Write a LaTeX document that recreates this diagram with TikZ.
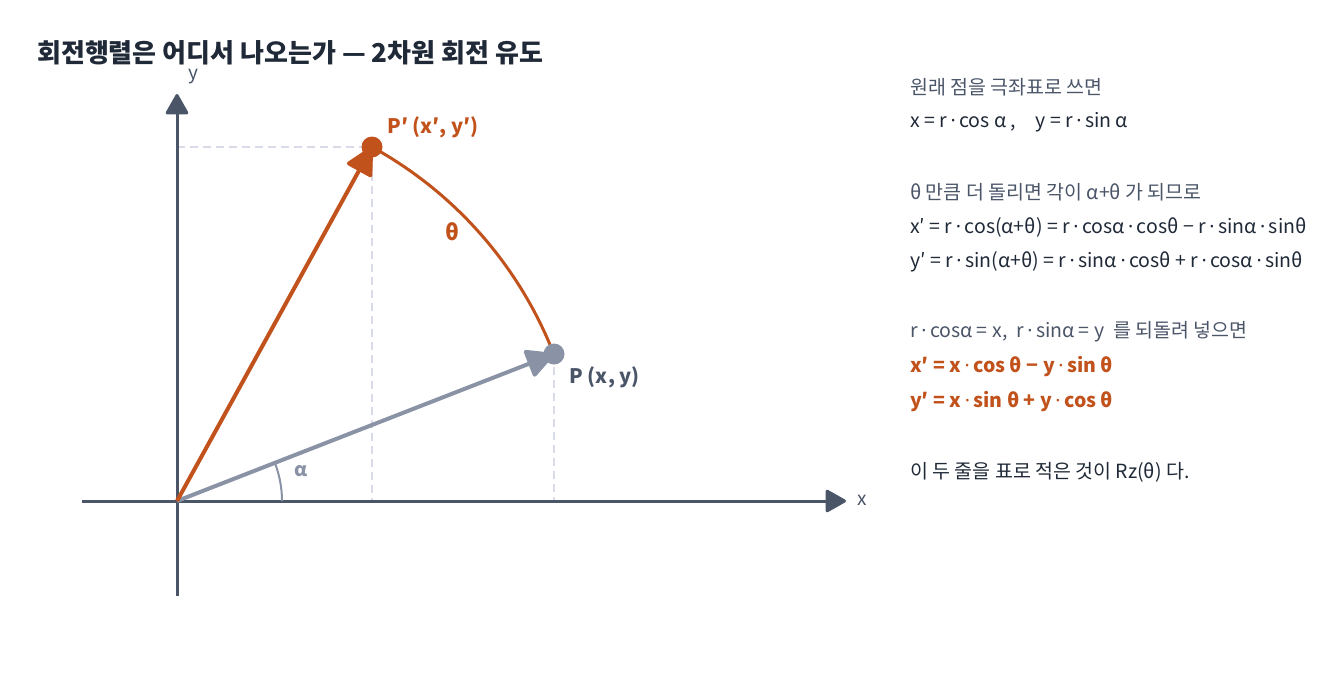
\documentclass[tikz,border=0pt]{standalone}
\usepackage{fontspec}
\setmainfont{Noto Sans CJK KR}
\newfontfamily\dotfont{Noto Sans}
\newcommand\md{\unskip\hspace{0.18em}{\dotfont ·}\hspace{0.18em}\ignorespaces}
\usetikzlibrary{arrows.meta}
\definecolor{axiscol}{HTML}{4A5568}
\definecolor{vecgray}{HTML}{8A93A6}
\definecolor{orng}{HTML}{C2521C}
\definecolor{dashcol}{HTML}{D9DCE8}
\definecolor{darktxt}{HTML}{1F2937}
\definecolor{graytxt}{HTML}{4A5568}
\tikzset{
  axisline/.style={draw=axiscol, line width=3pt, -{Triangle[length=22pt,width=24pt,round]}},
  guide/.style={draw=dashcol, line width=1.6pt, dash pattern=on 8pt off 5pt},
  dotnode/.style={circle, inner sep=0pt, minimum size=21pt},
  vecarrow/.style={line width=4pt, -{Triangle[length=30pt,width=30pt,round]}},
  axlabel/.style={text=axiscol, inner sep=0pt, font=\fontsize{19}{22}\selectfont},
  body/.style={anchor=west, inner sep=0pt, font=\fontsize{19.5}{23}\selectfont},
}
\begin{document}
\begin{tikzpicture}[x=1pt,y=-1pt]
\useasboundingbox (0,0) rectangle (1334,689);
% title
\node[anchor=west, inner sep=0pt, text=darktxt, font=\fontsize{26}{30}\selectfont\bfseries] (title) at (37,53) {회전행렬은 어디서 나오는가 — 2차원 회전 유도};
% points
\coordinate (O) at (177,501);
\coordinate (xs) at (82,501);
\coordinate (xe) at (846,501);
\coordinate (ys) at (177,596);
\coordinate (ye) at (177,94);
\coordinate (yp) at (177,147);
\coordinate (xpp) at (372,501);
\coordinate (xp) at (554,501);
\coordinate (a0) at (282,501);
\coordinate (Pc) at (554,354);
\coordinate (Ppc) at (372,147);
% guides
\draw[guide] (yp) -- (Ppc);
\draw[guide] (Ppc) -- (xpp);
\draw[guide] (Pc) -- (xp);
% axes
\draw[axisline] (xs) -- (xe);
\draw[axisline] (ys) -- (ye);
\node[axlabel] (xlab) at (862,500) {x};
\node[axlabel] (ylab) at (193,77) {y};
% alpha arc
\draw[vecgray, line width=2pt] (a0) arc[start angle=0, end angle=21.3, radius=105pt];
\node[text=vecgray, font=\fontsize{19}{22}\selectfont\bfseries] (alab) at (301,471) {α};
% theta arc
\draw[orng, line width=3pt] (Ppc) arc[start angle=61.2, end angle=21.3, radius=404.5pt];
\node[text=orng, font=\fontsize{22}{26}\selectfont\bfseries] (tlab) at (452,232) {θ};
% vectors
\draw[vecarrow, vecgray] (O) -- (Pc);
\draw[vecarrow, orng] (O) -- (Ppc);
% dots
\node[dotnode, fill=vecgray] (P) at (Pc) {};
\node[dotnode, fill=orng] (Pp) at (Ppc) {};
\node[anchor=west, text=orng, font=\fontsize{20}{23}\selectfont\bfseries] (Pplab) at (384,127) {P′ (x′, y′)};
\node[anchor=west, text=graytxt, font=\fontsize{20}{23}\selectfont\bfseries] (Plab) at (566,377) {P (x, y)};
% right text
\node[body, text=graytxt] (t1) at (910,87) {원래 점을 극좌표로 쓰면};
\node[body, text=darktxt] (t2) at (910,122) {x = r \md cos α ,\quad y = r \md sin α};
\node[body, text=graytxt] (t3) at (910,192) {θ 만큼 더 돌리면 각이 α+θ 가 되므로};
\node[body, text=darktxt] (t4) at (910,227) {x′ = r \md cos(α+θ) = r \md cosα \md cosθ − r \md sinα \md sinθ};
\node[body, text=darktxt] (t5) at (910,262) {y′ = r \md sin(α+θ) = r \md sinα \md cosθ + r \md cosα \md sinθ};
\node[body, text=graytxt] (t6) at (910,332) {r \md cosα = x,\ \ r \md sinα = y\ \ 를 되돌려 넣으면};
\node[body, text=orng, font=\fontsize{19.5}{23}\selectfont\bfseries] (t7) at (910,367) {x′ = x \md cos θ − y \md sin θ};
\node[body, text=orng, font=\fontsize{19.5}{23}\selectfont\bfseries] (t8) at (910,402) {y′ = x \md sin θ + y \md cos θ};
\node[body, text=darktxt] (t9) at (910,472) {이 두 줄을 표로 적은 것이 Rz(θ) 다.};
\end{tikzpicture}
\end{document}
